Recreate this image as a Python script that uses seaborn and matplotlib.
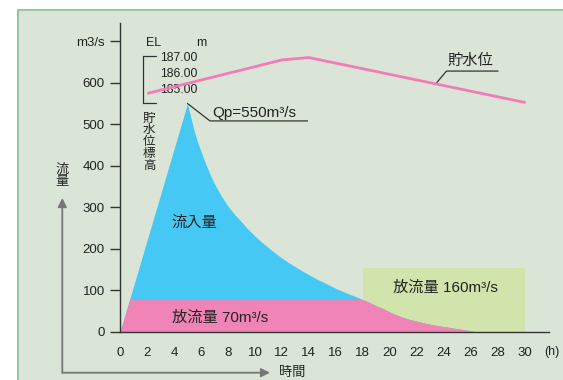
import numpy as np
import pandas as pd
import matplotlib
matplotlib.use("Agg")
import matplotlib.pyplot as plt
from matplotlib.patches import Rectangle, FancyArrowPatch
from matplotlib.lines import Line2D
import seaborn as sns

# ---------------- data ----------------
hours_in = [0, 5, 5.25, 5.5, 5.75, 6, 6.25, 6.5, 6.75, 7, 7.5, 8, 8.5, 9, 9.5,
            10, 10.5, 11, 11.5, 12, 12.5, 13, 13.5, 14, 14.5, 15, 15.5, 16,
            16.5, 17, 17.5, 18, 18.5, 19, 19.5, 20, 20.5, 21, 21.5, 22, 22.5,
            23, 23.5, 24, 24.5, 25, 25.5, 26, 26.5]
inflow = [0, 550, 516, 484, 457, 435, 413, 393, 374, 357, 328, 303, 283, 265,
          247, 231, 216, 203, 190, 178, 167, 157, 147, 138, 129, 121, 113, 105,
          98, 91, 85, 78, 71, 63, 56, 48, 41, 35, 30, 26, 22, 18.5, 15.5, 13,
          10.5, 8, 5.5, 3, 0]

hours_out = [0, 0.71, 18, 18.5, 19, 19.5, 20, 20.5, 21, 21.5, 22, 22.5, 23,
             23.5, 24, 24.5, 25, 25.5, 26, 26.5]
outflow = [0, 78, 78, 71, 63, 56, 48, 41, 35, 30, 26, 22, 18.5, 15.5, 13,
           10.5, 8, 5.5, 3, 0]

release_hours = [18, 30]
release_cap = [155, 155]

hours_lv = [2.1, 6, 9, 12, 14, 30]
level = [184.8, 185.63, 186.26, 186.9, 187.05, 184.22]

x_ticks = list(range(0, 31, 2))
y_ticks = [0, 100, 200, 300, 400, 500, 600, 700]
y_labels = ["0", "100", "200", "300", "400", "500", "600", "m3/s"]
el_ticks = [187, 186, 185]

peak_t, peak_q = 5, 550

# ---------------- style ----------------
sns.set_theme(style="white")
plt.rcParams["font.family"] = ["Liberation Sans", "Noto Sans CJK JP"]
TXT = "#222222"
BG = "#dae5d8"

fig = plt.figure(figsize=(5.63, 3.80), dpi=100)
fig.patch.set_facecolor("white")
fig.add_artist(Rectangle((18 / 563, 0), 1 - 18 / 563, 370 / 380,
                         transform=fig.transFigure, facecolor=BG,
                         edgecolor="none", zorder=-10))
fig.add_artist(Line2D([18 / 563, 18 / 563], [0, 370 / 380], transform=fig.transFigure,
                      color="#8dc39a", lw=1.3, zorder=-9))
fig.add_artist(Line2D([18 / 563, 1], [370 / 380, 370 / 380], transform=fig.transFigure,
                      color="#8dc39a", lw=1.3, zorder=-9))

ax = fig.add_axes([120 / 563, 48 / 380, 429 / 563, 309 / 380])
ax.set_facecolor("none")

# areas
ax.fill_between(release_hours, 0, release_cap, color="#d0e4ab", lw=0, zorder=1)
ax.fill_between(hours_in, 0, inflow, color="#45c8f4", lw=0, zorder=2)
ax.fill_between(hours_out, 0, outflow, color="#f084b6", lw=0, zorder=3)

ax.set_xlim(0, 31.8)
ax.set_ylim(0, 743.7)
ax.set_xticks(x_ticks)
ax.set_xticklabels([str(v) for v in x_ticks])
ax.set_yticks(y_ticks)
ax.set_yticklabels(y_labels)
for sp in ["top", "right"]:
    ax.spines[sp].set_visible(False)
for sp in ["left", "bottom"]:
    ax.spines[sp].set_color("#333333")
    ax.spines[sp].set_linewidth(1.0)
    ax.spines[sp].set_zorder(5)
ax.tick_params(axis="both", direction="out", length=7, width=1, color="#333333",
               labelsize=9.5, labelcolor=TXT)
ax.tick_params(axis="x", pad=4)
ax.tick_params(axis="y", pad=4)
ax.xaxis.get_major_ticks()[0].tick1line.set_visible(False)
ax.yaxis.get_major_ticks()[0].tick1line.set_visible(False)
ax.grid(False)

ax.text(32.05, -48, "(h)", fontsize=9, color=TXT, ha="center", va="center",
        clip_on=False)

# reservoir level on twin axis
ax2 = ax.twinx()
ax2.set_ylim(169.73, 189.23)
ax2.set_facecolor("none")
for sp in ax2.spines.values():
    sp.set_visible(False)
ax2.set_yticks([])
ax2.grid(False)
lv = pd.DataFrame({"hours": hours_lv, "level": level})
sns.lineplot(data=lv, x="hours", y="level", ax=ax2, color="#f27db6", lw=2.0,
             zorder=6)
ax2.set_xlabel("")
ax2.set_ylabel("")

for v in el_ticks:
    ax2.text(2.96, v, f"{v:.2f}", fontsize=8.7, color=TXT, ha="left", va="center")
ax2.plot([1.67, 1.67], [184.2, 187.15], color="#333333", lw=0.9)
ax2.plot([1.67, 2.67], [187.15, 187.15], color="#333333", lw=0.9)
ax2.plot([1.67, 2.67], [184.2, 184.2], color="#333333", lw=0.9)

# labels in flow units
ax.text(2.52, 696, "EL", fontsize=9, color=TXT, ha="center", va="center")
ax.text(6.05, 696, "m", fontsize=9, color=TXT, ha="center", va="center")
ax.text(2.15, 457, "\n".join("貯水位標高"), fontsize=9, color=TXT, ha="center",
        va="center", linespacing=0.98)

ax.text(5.48, 262, "流入量", fontsize=11, color=TXT, ha="center", va="center", zorder=7)
ax.text(7.41, 34, "放流量 70m³/s", fontsize=11, color=TXT, ha="center", va="center", zorder=7)
ax.text(24.15, 107, "放流量 160m³/s", fontsize=11, color=TXT, ha="center", va="center", zorder=7)

ax.plot([peak_t, 6.67, 13.9], [peak_q, 508, 508], color="#333333", lw=0.9, zorder=7)
ax.text(6.84, 528, f"Qp={peak_q}m³/s", fontsize=11, color=TXT, ha="left",
        va="center", zorder=7)

ax.plot([23.4, 24.2, 28.02], [597, 628, 628], color="#333333", lw=0.9, zorder=7)
ax.text(24.3, 653, "貯水位", fontsize=11, color=TXT, ha="left", va="center", zorder=7)

# outer arrows
arrow_kw = dict(arrowstyle="-|>", color="#777777", lw=1.3, mutation_scale=13,
                shrinkA=0, shrinkB=0)
fig.add_artist(FancyArrowPatch(
    (62.3 / 563, (380 - 372.7) / 380), (62.3 / 563, (380 - 198) / 380),
    transform=fig.transFigure, **arrow_kw))
fig.add_artist(FancyArrowPatch(
    (62.3 / 563, (380 - 372.7) / 380), (270 / 563, (380 - 372.7) / 380),
    transform=fig.transFigure, **arrow_kw))
fig.text(61.7 / 563, (380 - 176) / 380, "流\n量", fontsize=9.5, color=TXT,
         ha="center", va="center", linespacing=1.0)
fig.text(279 / 563, (380 - 372.7) / 380, "時間", fontsize=9.5, color=TXT,
         ha="left", va="center")

fig.savefig("out.png", dpi=100, facecolor=fig.get_facecolor())
